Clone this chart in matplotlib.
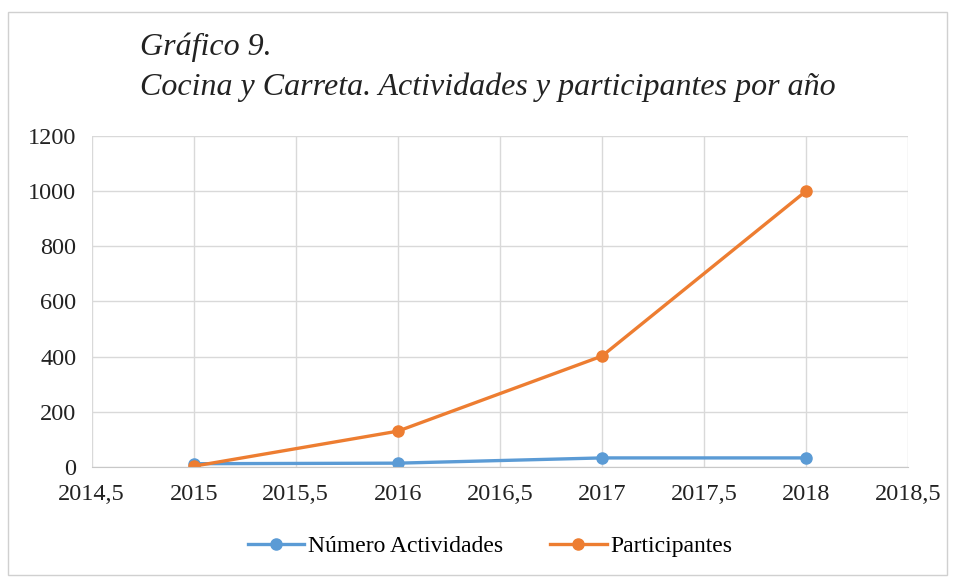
import matplotlib
matplotlib.use("Agg")
import matplotlib.pyplot as plt
from matplotlib.patches import Rectangle

years = [2015, 2016, 2017, 2018]
actividades = [12, 14, 33, 33]
participantes = [3, 130, 402, 1000]
xticks = [2014.5, 2015, 2015.5, 2016, 2016.5, 2017, 2017.5, 2018, 2018.5]
yticks = [0, 200, 400, 600, 800, 1000, 1200]

plt.rcParams['font.family'] = ['Liberation Serif', 'DejaVu Serif']

fig = plt.figure(figsize=(9.55, 5.78), dpi=100)
ax = fig.add_axes([0.096, 0.192, 0.855, 0.573])

ax.plot(years, actividades, color="#5B9BD5", lw=2.4, marker="o", ms=8,
        label="Número Actividades")
ax.plot(years, participantes, color="#ED7D31", lw=2.4, marker="o", ms=8,
        label="Participantes")

ax.set_xlim(2014.5, 2018.5)
ax.set_ylim(0, 1200)
ax.set_xticks(xticks)
ax.set_xticklabels([str(x).replace(".", ",") if x % 1 else str(int(x)) for x in xticks])
ax.set_yticks(yticks)
ax.grid(True, color="#d9d9d9", lw=1)
ax.set_axisbelow(True)
for s in ["top", "right", "left"]:
    ax.spines[s].set_visible(False)
ax.spines["bottom"].set_color("#c8c8c8")
ax.tick_params(axis="x", length=0, labelsize=17.5, colors="#222222", pad=12)
ax.tick_params(axis="y", length=0, labelsize=17.5, colors="#222222", pad=11)

fig.text(0.147, 0.905, "Gráfico 9.", fontsize=23, style="italic", color="#222222")
fig.text(0.147, 0.835, "Cocina y Carreta. Actividades y participantes por año",
         fontsize=23, style="italic", color="#222222")

fig.legend(loc="center", bbox_to_anchor=(0.513, 0.055), ncol=2, frameon=False,
           fontsize=17, handlelength=2.4, columnspacing=2.0, handletextpad=0.15)

fig.patches.append(Rectangle((0.008, 0.005), 0.984, 0.975, transform=fig.transFigure,
                             fill=False, edgecolor="#d0d0d0", lw=1))

fig.savefig("out.png", dpi=100)
